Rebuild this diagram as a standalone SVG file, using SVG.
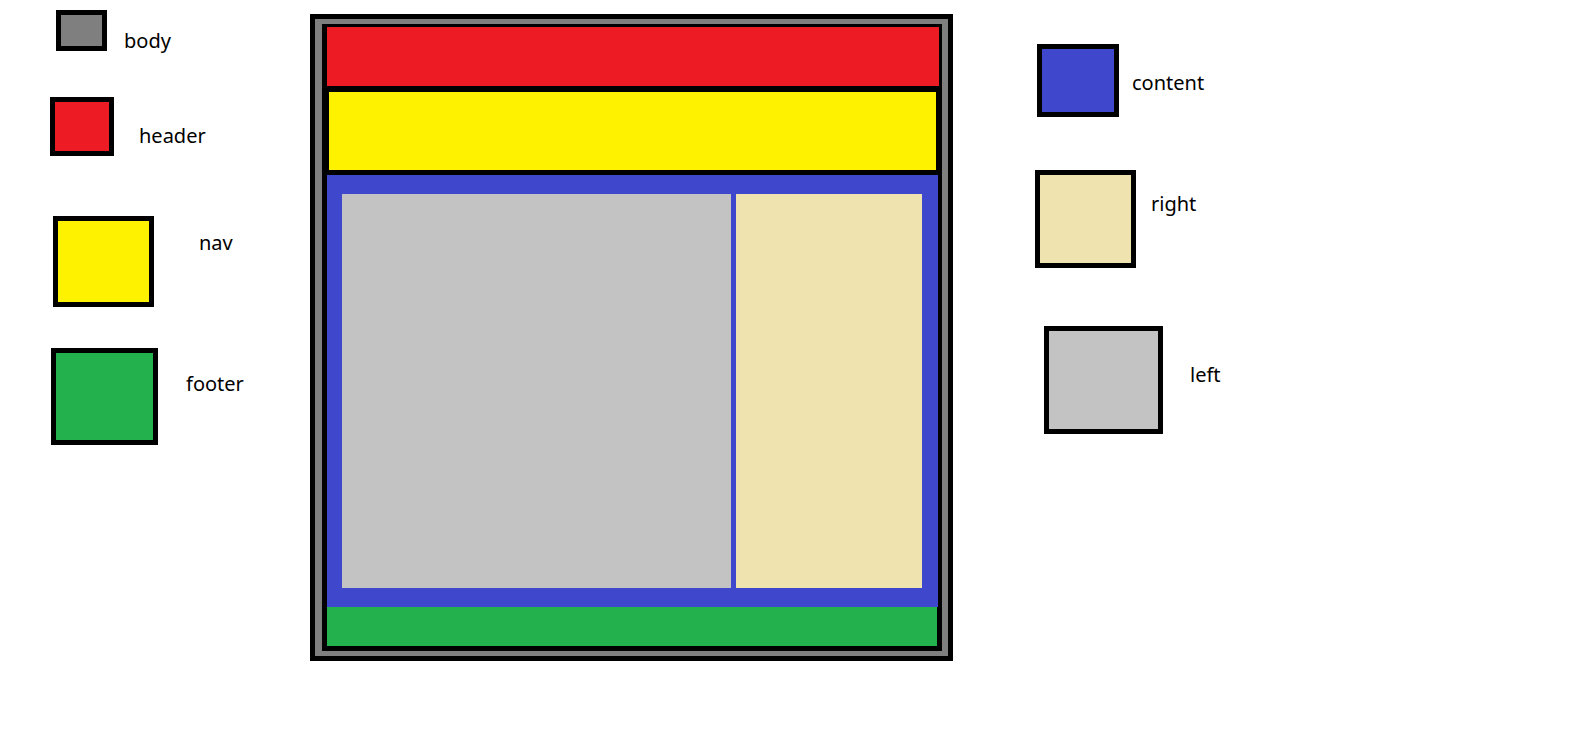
<svg xmlns="http://www.w3.org/2000/svg" width="1594" height="747" viewBox="0 0 1594 747">
<style>
.sw{stroke:#000;stroke-width:5}
.lbl{font-family:"Noto Sans","Open Sans","DejaVu Sans",sans-serif;font-size:20px;fill:#000}
</style>
<rect width="1594" height="747" fill="#fff"/>
<g id="layout">
<rect x="310" y="14" width="643" height="647" fill="#000"/>
<rect x="315" y="19" width="633" height="637" fill="#7f7f7f"/>
<rect x="322" y="24" width="620" height="627" fill="#000"/>
<rect id="l-header" x="327" y="27" width="612" height="59" fill="#ed1c24"/>
<rect id="l-nav" x="329" y="92" width="607" height="78" fill="#fff200"/>
<rect id="l-content" x="327" y="175" width="611" height="432" fill="#3f48cc"/>
<rect id="l-left" x="342" y="194" width="389" height="394" fill="#c3c3c3"/>
<rect id="l-right" x="736" y="194" width="186" height="394" fill="#efe4b0"/>
<rect id="l-footer" x="327" y="607" width="610" height="39" fill="#22b14c"/>
</g>
<g id="legend-body"><rect class="sw" x="58.5" y="12.5" width="46" height="36" fill="#7f7f7f"/><text class="lbl" x="124" y="48">body</text></g>
<g id="legend-header"><rect class="sw" x="52.5" y="99.5" width="59" height="54" fill="#ed1c24"/><text class="lbl" x="139" y="143">header</text></g>
<g id="legend-nav"><rect class="sw" x="55.5" y="218.5" width="96" height="86" fill="#fff200"/><text class="lbl" x="199" y="250">nav</text></g>
<g id="legend-footer"><rect class="sw" x="53.5" y="350.5" width="102" height="92" fill="#22b14c"/><text class="lbl" x="186" y="391">footer</text></g>
<g id="legend-content"><rect class="sw" x="1039.5" y="46.5" width="77" height="68" fill="#3f48cc"/><text class="lbl" x="1132" y="90">content</text></g>
<g id="legend-right"><rect class="sw" x="1037.5" y="172.5" width="96" height="93" fill="#efe4b0"/><text class="lbl" x="1151" y="211">right</text></g>
<g id="legend-left"><rect class="sw" x="1046.5" y="328.5" width="114" height="103" fill="#c3c3c3"/><text class="lbl" x="1190" y="382">left</text></g>
<g id="connectors"/>
</svg>
